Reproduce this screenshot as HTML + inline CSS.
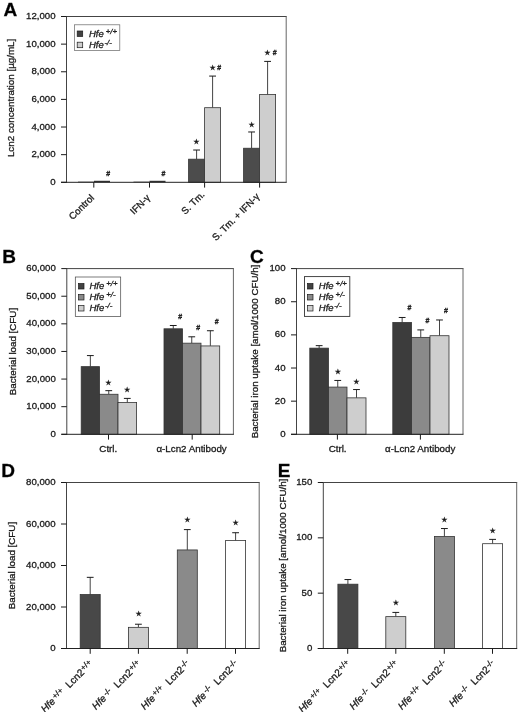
<!DOCTYPE html>
<html><head><meta charset="utf-8"><title>Figure</title>
<style>html,body{margin:0;padding:0;background:#fff}svg{display:block;will-change:transform;filter:grayscale(1)}text{stroke:#1a1a1a;stroke-width:.3px}</style></head>
<body>
<svg width="520" height="712" viewBox="0 0 520 712" font-family='"Liberation Sans", Arial, sans-serif'>
<rect width="520" height="712" fill="#fff"/>
<rect x="78.00" y="181.68" width="16.00" height="0.62" fill="#333" stroke="none" stroke-width="0"/>
<rect x="94.00" y="180.78" width="16.00" height="1.52" fill="#333" stroke="none" stroke-width="0"/>
<rect x="133.50" y="181.68" width="16.00" height="0.62" fill="#333" stroke="none" stroke-width="0"/>
<rect x="149.50" y="180.78" width="16.00" height="1.52" fill="#333" stroke="none" stroke-width="0"/>
<line x1="196.60" y1="159.18" x2="196.60" y2="150.02" stroke="#444" stroke-width="1"/>
<line x1="193.20" y1="150.02" x2="200.00" y2="150.02" stroke="#1a1a1a" stroke-width="1"/>
<rect x="188.60" y="159.18" width="16.00" height="23.12" fill="#4c4c4c" stroke="#333" stroke-width="0.8"/>
<line x1="212.60" y1="107.69" x2="212.60" y2="76.09" stroke="#444" stroke-width="1"/>
<line x1="209.20" y1="76.09" x2="216.00" y2="76.09" stroke="#1a1a1a" stroke-width="1"/>
<rect x="204.60" y="107.69" width="16.00" height="74.61" fill="#cecece" stroke="#333" stroke-width="0.8"/>
<line x1="251.60" y1="148.23" x2="251.60" y2="131.98" stroke="#444" stroke-width="1"/>
<line x1="248.20" y1="131.98" x2="255.00" y2="131.98" stroke="#1a1a1a" stroke-width="1"/>
<rect x="243.60" y="148.23" width="16.00" height="34.07" fill="#4c4c4c" stroke="#333" stroke-width="0.8"/>
<line x1="267.60" y1="94.56" x2="267.60" y2="61.40" stroke="#444" stroke-width="1"/>
<line x1="264.20" y1="61.40" x2="271.00" y2="61.40" stroke="#1a1a1a" stroke-width="1"/>
<rect x="259.60" y="94.56" width="16.00" height="87.74" fill="#cecece" stroke="#333" stroke-width="0.8"/>
<line x1="66.50" y1="16.50" x2="286.70" y2="16.50" stroke="#444" stroke-width="1"/>
<line x1="286.20" y1="16.50" x2="286.20" y2="182.30" stroke="#666" stroke-width="1"/>
<line x1="66.50" y1="16.00" x2="66.50" y2="182.80" stroke="#444" stroke-width="1"/>
<line x1="61.00" y1="182.30" x2="286.70" y2="182.30" stroke="#222" stroke-width="1"/>
<line x1="61.00" y1="182.30" x2="66.50" y2="182.30" stroke="#1a1a1a" stroke-width="1"/>
<text x="55.50" y="184.87" font-size="9.65" text-anchor="end" fill="#1a1a1a">0</text>
<line x1="61.00" y1="154.67" x2="66.50" y2="154.67" stroke="#1a1a1a" stroke-width="1"/>
<text x="55.50" y="157.24" font-size="9.65" text-anchor="end" fill="#1a1a1a">2,000</text>
<line x1="61.00" y1="127.03" x2="66.50" y2="127.03" stroke="#1a1a1a" stroke-width="1"/>
<text x="55.50" y="129.61" font-size="9.65" text-anchor="end" fill="#1a1a1a">4,000</text>
<line x1="61.00" y1="99.40" x2="66.50" y2="99.40" stroke="#1a1a1a" stroke-width="1"/>
<text x="55.50" y="101.97" font-size="9.65" text-anchor="end" fill="#1a1a1a">6,000</text>
<line x1="61.00" y1="71.77" x2="66.50" y2="71.77" stroke="#1a1a1a" stroke-width="1"/>
<text x="55.50" y="74.34" font-size="9.65" text-anchor="end" fill="#1a1a1a">8,000</text>
<line x1="61.00" y1="44.13" x2="66.50" y2="44.13" stroke="#1a1a1a" stroke-width="1"/>
<text x="55.50" y="46.71" font-size="9.65" text-anchor="end" fill="#1a1a1a">10,000</text>
<line x1="61.00" y1="16.50" x2="66.50" y2="16.50" stroke="#1a1a1a" stroke-width="1"/>
<text x="55.50" y="19.07" font-size="9.65" text-anchor="end" fill="#1a1a1a">12,000</text>
<line x1="93.80" y1="182.30" x2="93.80" y2="187.60" stroke="#1a1a1a" stroke-width="1"/>
<line x1="149.50" y1="182.30" x2="149.50" y2="187.60" stroke="#1a1a1a" stroke-width="1"/>
<line x1="204.60" y1="182.30" x2="204.60" y2="187.60" stroke="#1a1a1a" stroke-width="1"/>
<line x1="259.60" y1="182.30" x2="259.60" y2="187.60" stroke="#1a1a1a" stroke-width="1"/>
<text x="212.70" y="70.20" font-size="7" text-anchor="middle" fill="#1a1a1a" font-family="DejaVu Sans, sans-serif">★</text>
<text x="219.30" y="69.60" font-size="7" text-anchor="middle" font-weight="bold" fill="#1a1a1a">#</text>
<text x="267.50" y="55.40" font-size="7" text-anchor="middle" fill="#1a1a1a" font-family="DejaVu Sans, sans-serif">★</text>
<text x="274.60" y="55.10" font-size="7" text-anchor="middle" font-weight="bold" fill="#1a1a1a">#</text>
<text x="196.30" y="144.30" font-size="7" text-anchor="middle" fill="#1a1a1a" font-family="DejaVu Sans, sans-serif">★</text>
<text x="251.70" y="126.60" font-size="7" text-anchor="middle" fill="#1a1a1a" font-family="DejaVu Sans, sans-serif">★</text>
<text x="108.30" y="176.20" font-size="7" text-anchor="middle" font-weight="bold" fill="#1a1a1a">#</text>
<text x="163.40" y="176.20" font-size="7" text-anchor="middle" font-weight="bold" fill="#1a1a1a">#</text>
<line x1="90.35" y1="366.64" x2="90.35" y2="355.59" stroke="#444" stroke-width="1"/>
<line x1="86.95" y1="355.59" x2="93.75" y2="355.59" stroke="#1a1a1a" stroke-width="1"/>
<rect x="81.20" y="366.64" width="18.30" height="67.66" fill="#3c3c3c" stroke="#333" stroke-width="0.8"/>
<line x1="108.75" y1="394.26" x2="108.75" y2="390.67" stroke="#444" stroke-width="1"/>
<line x1="105.35" y1="390.67" x2="112.15" y2="390.67" stroke="#1a1a1a" stroke-width="1"/>
<rect x="99.50" y="394.26" width="18.50" height="40.04" fill="#8a8a8a" stroke="#333" stroke-width="0.8"/>
<line x1="127.30" y1="402.54" x2="127.30" y2="398.40" stroke="#444" stroke-width="1"/>
<line x1="123.90" y1="398.40" x2="130.70" y2="398.40" stroke="#1a1a1a" stroke-width="1"/>
<rect x="118.00" y="402.54" width="18.60" height="31.76" fill="#cecece" stroke="#333" stroke-width="0.8"/>
<line x1="173.25" y1="328.80" x2="173.25" y2="325.49" stroke="#444" stroke-width="1"/>
<line x1="169.85" y1="325.49" x2="176.65" y2="325.49" stroke="#1a1a1a" stroke-width="1"/>
<rect x="164.00" y="328.80" width="18.50" height="105.50" fill="#3c3c3c" stroke="#333" stroke-width="0.8"/>
<line x1="191.75" y1="343.17" x2="191.75" y2="336.81" stroke="#444" stroke-width="1"/>
<line x1="188.35" y1="336.81" x2="195.15" y2="336.81" stroke="#1a1a1a" stroke-width="1"/>
<rect x="182.50" y="343.17" width="18.50" height="91.13" fill="#8a8a8a" stroke="#333" stroke-width="0.8"/>
<line x1="210.35" y1="345.93" x2="210.35" y2="330.74" stroke="#444" stroke-width="1"/>
<line x1="206.95" y1="330.74" x2="213.75" y2="330.74" stroke="#1a1a1a" stroke-width="1"/>
<rect x="201.00" y="345.93" width="18.70" height="88.37" fill="#cecece" stroke="#333" stroke-width="0.8"/>
<line x1="66.80" y1="268.60" x2="233.90" y2="268.60" stroke="#444" stroke-width="1"/>
<line x1="233.40" y1="268.60" x2="233.40" y2="434.30" stroke="#666" stroke-width="1"/>
<line x1="66.80" y1="268.10" x2="66.80" y2="434.80" stroke="#444" stroke-width="1"/>
<line x1="61.30" y1="434.30" x2="233.90" y2="434.30" stroke="#222" stroke-width="1"/>
<line x1="61.30" y1="434.30" x2="66.80" y2="434.30" stroke="#1a1a1a" stroke-width="1"/>
<text x="55.80" y="436.87" font-size="9.65" text-anchor="end" fill="#1a1a1a">0</text>
<line x1="61.30" y1="406.68" x2="66.80" y2="406.68" stroke="#1a1a1a" stroke-width="1"/>
<text x="55.80" y="409.26" font-size="9.65" text-anchor="end" fill="#1a1a1a">10,000</text>
<line x1="61.30" y1="379.07" x2="66.80" y2="379.07" stroke="#1a1a1a" stroke-width="1"/>
<text x="55.80" y="381.64" font-size="9.65" text-anchor="end" fill="#1a1a1a">20,000</text>
<line x1="61.30" y1="351.45" x2="66.80" y2="351.45" stroke="#1a1a1a" stroke-width="1"/>
<text x="55.80" y="354.02" font-size="9.65" text-anchor="end" fill="#1a1a1a">30,000</text>
<line x1="61.30" y1="323.83" x2="66.80" y2="323.83" stroke="#1a1a1a" stroke-width="1"/>
<text x="55.80" y="326.41" font-size="9.65" text-anchor="end" fill="#1a1a1a">40,000</text>
<line x1="61.30" y1="296.22" x2="66.80" y2="296.22" stroke="#1a1a1a" stroke-width="1"/>
<text x="55.80" y="298.79" font-size="9.65" text-anchor="end" fill="#1a1a1a">50,000</text>
<line x1="61.30" y1="268.60" x2="66.80" y2="268.60" stroke="#1a1a1a" stroke-width="1"/>
<text x="55.80" y="271.17" font-size="9.65" text-anchor="end" fill="#1a1a1a">60,000</text>
<line x1="108.50" y1="434.30" x2="108.50" y2="439.60" stroke="#1a1a1a" stroke-width="1"/>
<line x1="192.20" y1="434.30" x2="192.20" y2="439.60" stroke="#1a1a1a" stroke-width="1"/>
<text x="108.40" y="384.90" font-size="7" text-anchor="middle" fill="#1a1a1a" font-family="DejaVu Sans, sans-serif">★</text>
<text x="127.10" y="391.80" font-size="7" text-anchor="middle" fill="#1a1a1a" font-family="DejaVu Sans, sans-serif">★</text>
<text x="180.10" y="318.80" font-size="7" text-anchor="middle" font-weight="bold" fill="#1a1a1a">#</text>
<text x="198.30" y="329.80" font-size="7" text-anchor="middle" font-weight="bold" fill="#1a1a1a">#</text>
<text x="216.70" y="324.10" font-size="7" text-anchor="middle" font-weight="bold" fill="#1a1a1a">#</text>
<line x1="319.15" y1="348.14" x2="319.15" y2="345.65" stroke="#444" stroke-width="1"/>
<line x1="315.75" y1="345.65" x2="322.55" y2="345.65" stroke="#1a1a1a" stroke-width="1"/>
<rect x="309.80" y="348.14" width="18.70" height="86.16" fill="#3c3c3c" stroke="#333" stroke-width="0.8"/>
<line x1="337.75" y1="387.08" x2="337.75" y2="380.45" stroke="#444" stroke-width="1"/>
<line x1="334.35" y1="380.45" x2="341.15" y2="380.45" stroke="#1a1a1a" stroke-width="1"/>
<rect x="328.50" y="387.08" width="18.50" height="47.22" fill="#8a8a8a" stroke="#333" stroke-width="0.8"/>
<line x1="356.50" y1="397.85" x2="356.50" y2="389.56" stroke="#444" stroke-width="1"/>
<line x1="353.10" y1="389.56" x2="359.90" y2="389.56" stroke="#1a1a1a" stroke-width="1"/>
<rect x="347.00" y="397.85" width="19.00" height="36.45" fill="#cecece" stroke="#333" stroke-width="0.8"/>
<line x1="402.15" y1="322.45" x2="402.15" y2="317.48" stroke="#444" stroke-width="1"/>
<line x1="398.75" y1="317.48" x2="405.55" y2="317.48" stroke="#1a1a1a" stroke-width="1"/>
<rect x="392.80" y="322.45" width="18.70" height="111.85" fill="#3c3c3c" stroke="#333" stroke-width="0.8"/>
<line x1="420.75" y1="337.37" x2="420.75" y2="329.91" stroke="#444" stroke-width="1"/>
<line x1="417.35" y1="329.91" x2="424.15" y2="329.91" stroke="#1a1a1a" stroke-width="1"/>
<rect x="411.50" y="337.37" width="18.50" height="96.93" fill="#8a8a8a" stroke="#333" stroke-width="0.8"/>
<line x1="439.50" y1="335.71" x2="439.50" y2="319.97" stroke="#444" stroke-width="1"/>
<line x1="436.10" y1="319.97" x2="442.90" y2="319.97" stroke="#1a1a1a" stroke-width="1"/>
<rect x="430.00" y="335.71" width="19.00" height="98.59" fill="#cecece" stroke="#333" stroke-width="0.8"/>
<line x1="296.50" y1="268.60" x2="463.50" y2="268.60" stroke="#444" stroke-width="1"/>
<line x1="463.00" y1="268.60" x2="463.00" y2="434.30" stroke="#666" stroke-width="1"/>
<line x1="296.50" y1="268.10" x2="296.50" y2="434.80" stroke="#444" stroke-width="1"/>
<line x1="291.00" y1="434.30" x2="463.50" y2="434.30" stroke="#222" stroke-width="1"/>
<line x1="291.00" y1="434.30" x2="296.50" y2="434.30" stroke="#1a1a1a" stroke-width="1"/>
<text x="285.50" y="436.87" font-size="9.65" text-anchor="end" fill="#1a1a1a">0</text>
<line x1="291.00" y1="401.16" x2="296.50" y2="401.16" stroke="#1a1a1a" stroke-width="1"/>
<text x="285.50" y="403.73" font-size="9.65" text-anchor="end" fill="#1a1a1a">20</text>
<line x1="291.00" y1="368.02" x2="296.50" y2="368.02" stroke="#1a1a1a" stroke-width="1"/>
<text x="285.50" y="370.59" font-size="9.65" text-anchor="end" fill="#1a1a1a">40</text>
<line x1="291.00" y1="334.88" x2="296.50" y2="334.88" stroke="#1a1a1a" stroke-width="1"/>
<text x="285.50" y="337.45" font-size="9.65" text-anchor="end" fill="#1a1a1a">60</text>
<line x1="291.00" y1="301.74" x2="296.50" y2="301.74" stroke="#1a1a1a" stroke-width="1"/>
<text x="285.50" y="304.31" font-size="9.65" text-anchor="end" fill="#1a1a1a">80</text>
<line x1="291.00" y1="268.60" x2="296.50" y2="268.60" stroke="#1a1a1a" stroke-width="1"/>
<text x="285.50" y="271.17" font-size="9.65" text-anchor="end" fill="#1a1a1a">100</text>
<line x1="337.40" y1="434.30" x2="337.40" y2="439.60" stroke="#1a1a1a" stroke-width="1"/>
<line x1="420.40" y1="434.30" x2="420.40" y2="439.60" stroke="#1a1a1a" stroke-width="1"/>
<text x="337.80" y="374.30" font-size="7" text-anchor="middle" fill="#1a1a1a" font-family="DejaVu Sans, sans-serif">★</text>
<text x="356.40" y="383.60" font-size="7" text-anchor="middle" fill="#1a1a1a" font-family="DejaVu Sans, sans-serif">★</text>
<text x="409.40" y="309.70" font-size="7" text-anchor="middle" font-weight="bold" fill="#1a1a1a">#</text>
<text x="427.40" y="322.80" font-size="7" text-anchor="middle" font-weight="bold" fill="#1a1a1a">#</text>
<text x="446.00" y="313.20" font-size="7" text-anchor="middle" font-weight="bold" fill="#1a1a1a">#</text>
<line x1="90.20" y1="594.55" x2="90.20" y2="577.33" stroke="#444" stroke-width="1"/>
<line x1="86.80" y1="577.33" x2="93.60" y2="577.33" stroke="#1a1a1a" stroke-width="1"/>
<rect x="80.20" y="594.55" width="20.00" height="53.95" fill="#484848" stroke="#333" stroke-width="0.8"/>
<line x1="138.40" y1="627.34" x2="138.40" y2="624.22" stroke="#444" stroke-width="1"/>
<line x1="135.00" y1="624.22" x2="141.80" y2="624.22" stroke="#1a1a1a" stroke-width="1"/>
<rect x="128.40" y="627.34" width="20.00" height="21.16" fill="#cecece" stroke="#333" stroke-width="0.8"/>
<line x1="187.30" y1="549.94" x2="187.30" y2="529.60" stroke="#444" stroke-width="1"/>
<line x1="183.90" y1="529.60" x2="190.70" y2="529.60" stroke="#1a1a1a" stroke-width="1"/>
<rect x="177.30" y="549.94" width="20.00" height="98.56" fill="#8a8a8a" stroke="#333" stroke-width="0.8"/>
<line x1="235.60" y1="540.60" x2="235.60" y2="532.72" stroke="#444" stroke-width="1"/>
<line x1="232.20" y1="532.72" x2="239.00" y2="532.72" stroke="#1a1a1a" stroke-width="1"/>
<rect x="225.60" y="540.60" width="20.00" height="107.90" fill="#ffffff" stroke="#333" stroke-width="0.8"/>
<line x1="66.50" y1="482.50" x2="259.70" y2="482.50" stroke="#444" stroke-width="1"/>
<line x1="259.20" y1="482.50" x2="259.20" y2="648.50" stroke="#666" stroke-width="1"/>
<line x1="66.50" y1="482.00" x2="66.50" y2="649.00" stroke="#444" stroke-width="1"/>
<line x1="61.00" y1="648.50" x2="259.70" y2="648.50" stroke="#222" stroke-width="1"/>
<line x1="61.00" y1="648.50" x2="66.50" y2="648.50" stroke="#1a1a1a" stroke-width="1"/>
<text x="55.50" y="651.07" font-size="9.65" text-anchor="end" fill="#1a1a1a">0</text>
<line x1="61.00" y1="607.00" x2="66.50" y2="607.00" stroke="#1a1a1a" stroke-width="1"/>
<text x="55.50" y="609.57" font-size="9.65" text-anchor="end" fill="#1a1a1a">20,000</text>
<line x1="61.00" y1="565.50" x2="66.50" y2="565.50" stroke="#1a1a1a" stroke-width="1"/>
<text x="55.50" y="568.07" font-size="9.65" text-anchor="end" fill="#1a1a1a">40,000</text>
<line x1="61.00" y1="524.00" x2="66.50" y2="524.00" stroke="#1a1a1a" stroke-width="1"/>
<text x="55.50" y="526.57" font-size="9.65" text-anchor="end" fill="#1a1a1a">60,000</text>
<line x1="61.00" y1="482.50" x2="66.50" y2="482.50" stroke="#1a1a1a" stroke-width="1"/>
<text x="55.50" y="485.07" font-size="9.65" text-anchor="end" fill="#1a1a1a">80,000</text>
<line x1="90.20" y1="648.50" x2="90.20" y2="653.80" stroke="#1a1a1a" stroke-width="1"/>
<line x1="138.40" y1="648.50" x2="138.40" y2="653.80" stroke="#1a1a1a" stroke-width="1"/>
<line x1="187.20" y1="648.50" x2="187.20" y2="653.80" stroke="#1a1a1a" stroke-width="1"/>
<line x1="235.50" y1="648.50" x2="235.50" y2="653.80" stroke="#1a1a1a" stroke-width="1"/>
<text x="138.60" y="616.40" font-size="7" text-anchor="middle" fill="#1a1a1a" font-family="DejaVu Sans, sans-serif">★</text>
<text x="187.30" y="522.30" font-size="7" text-anchor="middle" fill="#1a1a1a" font-family="DejaVu Sans, sans-serif">★</text>
<text x="235.60" y="525.20" font-size="7" text-anchor="middle" fill="#1a1a1a" font-family="DejaVu Sans, sans-serif">★</text>
<line x1="347.90" y1="584.20" x2="347.90" y2="579.55" stroke="#444" stroke-width="1"/>
<line x1="344.50" y1="579.55" x2="351.30" y2="579.55" stroke="#1a1a1a" stroke-width="1"/>
<rect x="337.90" y="584.20" width="20.00" height="64.30" fill="#484848" stroke="#333" stroke-width="0.8"/>
<line x1="395.80" y1="616.63" x2="395.80" y2="612.42" stroke="#444" stroke-width="1"/>
<line x1="392.40" y1="612.42" x2="399.20" y2="612.42" stroke="#1a1a1a" stroke-width="1"/>
<rect x="385.80" y="616.63" width="20.00" height="31.87" fill="#cecece" stroke="#333" stroke-width="0.8"/>
<line x1="444.40" y1="536.51" x2="444.40" y2="528.54" stroke="#444" stroke-width="1"/>
<line x1="441.00" y1="528.54" x2="447.80" y2="528.54" stroke="#1a1a1a" stroke-width="1"/>
<rect x="434.40" y="536.51" width="20.00" height="111.99" fill="#8a8a8a" stroke="#333" stroke-width="0.8"/>
<line x1="492.60" y1="543.70" x2="492.60" y2="539.38" stroke="#444" stroke-width="1"/>
<line x1="489.20" y1="539.38" x2="496.00" y2="539.38" stroke="#1a1a1a" stroke-width="1"/>
<rect x="482.60" y="543.70" width="20.00" height="104.80" fill="#ffffff" stroke="#333" stroke-width="0.8"/>
<line x1="323.30" y1="482.50" x2="517.20" y2="482.50" stroke="#444" stroke-width="1"/>
<line x1="516.70" y1="482.50" x2="516.70" y2="648.50" stroke="#666" stroke-width="1"/>
<line x1="323.30" y1="482.00" x2="323.30" y2="649.00" stroke="#444" stroke-width="1"/>
<line x1="317.80" y1="648.50" x2="517.20" y2="648.50" stroke="#222" stroke-width="1"/>
<line x1="317.80" y1="648.50" x2="323.30" y2="648.50" stroke="#1a1a1a" stroke-width="1"/>
<text x="312.30" y="651.07" font-size="9.65" text-anchor="end" fill="#1a1a1a">0</text>
<line x1="317.80" y1="593.17" x2="323.30" y2="593.17" stroke="#1a1a1a" stroke-width="1"/>
<text x="312.30" y="595.74" font-size="9.65" text-anchor="end" fill="#1a1a1a">50</text>
<line x1="317.80" y1="537.83" x2="323.30" y2="537.83" stroke="#1a1a1a" stroke-width="1"/>
<text x="312.30" y="540.41" font-size="9.65" text-anchor="end" fill="#1a1a1a">100</text>
<line x1="317.80" y1="482.50" x2="323.30" y2="482.50" stroke="#1a1a1a" stroke-width="1"/>
<text x="312.30" y="485.07" font-size="9.65" text-anchor="end" fill="#1a1a1a">150</text>
<line x1="347.70" y1="648.50" x2="347.70" y2="653.80" stroke="#1a1a1a" stroke-width="1"/>
<line x1="395.80" y1="648.50" x2="395.80" y2="653.80" stroke="#1a1a1a" stroke-width="1"/>
<line x1="444.30" y1="648.50" x2="444.30" y2="653.80" stroke="#1a1a1a" stroke-width="1"/>
<line x1="492.50" y1="648.50" x2="492.50" y2="653.80" stroke="#1a1a1a" stroke-width="1"/>
<text x="396.00" y="605.30" font-size="7" text-anchor="middle" fill="#1a1a1a" font-family="DejaVu Sans, sans-serif">★</text>
<text x="444.40" y="521.70" font-size="7" text-anchor="middle" fill="#1a1a1a" font-family="DejaVu Sans, sans-serif">★</text>
<text x="492.70" y="532.50" font-size="7" text-anchor="middle" fill="#1a1a1a" font-family="DejaVu Sans, sans-serif">★</text>
<text x="3.60" y="15.80" font-size="19" text-anchor="start" font-weight="bold" fill="#000" stroke="none">A</text>
<text x="2.20" y="263.00" font-size="19" text-anchor="start" font-weight="bold" fill="#000" stroke="none">B</text>
<text x="250.00" y="263.20" font-size="19" text-anchor="start" font-weight="bold" fill="#000" stroke="none">C</text>
<text x="1.30" y="477.20" font-size="19" text-anchor="start" font-weight="bold" fill="#000" stroke="none">D</text>
<text x="277.80" y="477.00" font-size="19" text-anchor="start" font-weight="bold" fill="#000" stroke="none">E</text>
<text x="14.30" y="97.90" font-size="9.8" text-anchor="middle" fill="#1a1a1a" transform="rotate(-90 14.30 97.90)">Lcn2 concentration [µg/mL]</text>
<text x="16.00" y="351.60" font-size="9.78" text-anchor="middle" fill="#1a1a1a" transform="rotate(-90 16.00 351.60)">Bacterial load [CFU]</text>
<text x="258.30" y="351.50" font-size="9.78" text-anchor="middle" fill="#1a1a1a" transform="rotate(-90 258.30 351.50)">Bacterial iron uptake [amol/1000 CFU/h]</text>
<text x="15.20" y="565.60" font-size="9.78" text-anchor="middle" fill="#1a1a1a" transform="rotate(-90 15.20 565.60)">Bacterial load [CFU]</text>
<text x="285.60" y="565.50" font-size="9.78" text-anchor="middle" fill="#1a1a1a" transform="rotate(-90 285.60 565.50)">Bacterial iron uptake [amol/1000 CFU/h]</text>
<text x="94.70" y="198.40" font-size="9.6" text-anchor="end" fill="#1a1a1a" transform="rotate(-45 94.70 198.40)">Control</text>
<text x="150.70" y="198.40" font-size="9.6" text-anchor="end" fill="#1a1a1a" transform="rotate(-45 150.70 198.40)">IFN-γ</text>
<text x="205.20" y="195.10" font-size="9.6" text-anchor="end" fill="#1a1a1a" transform="rotate(-45 205.20 195.10)">S. Tm.</text>
<text x="260.20" y="197.20" font-size="9.6" text-anchor="end" fill="#1a1a1a" transform="rotate(-45 260.20 197.20)">S. Tm. + IFN-γ</text>
<text x="108.30" y="452.20" font-size="9.78" text-anchor="middle" fill="#1a1a1a">Ctrl.</text>
<text x="191.60" y="452.20" font-size="9.78" text-anchor="middle" fill="#1a1a1a">α-Lcn2 Antibody</text>
<text x="337.60" y="452.20" font-size="9.78" text-anchor="middle" fill="#1a1a1a">Ctrl.</text>
<text x="420.20" y="452.20" font-size="9.78" text-anchor="middle" fill="#1a1a1a">α-Lcn2 Antibody</text>
<text x="93.50" y="664.50" font-size="10" text-anchor="end" fill="#1a1a1a" transform="rotate(-45 93.50 664.50)"><tspan font-style="italic">Hfe</tspan><tspan font-size="8" dy="-2.5" dx="1.5">+/+</tspan><tspan dy="2.5" dx="6.2">Lcn2</tspan><tspan font-size="8" dy="-2.5" dx="0.5">+/+</tspan></text>
<text x="351.00" y="664.50" font-size="10" text-anchor="end" fill="#1a1a1a" transform="rotate(-45 351.00 664.50)"><tspan font-style="italic">Hfe</tspan><tspan font-size="8" dy="-2.5" dx="1.5">+/+</tspan><tspan dy="2.5" dx="6.2">Lcn2</tspan><tspan font-size="8" dy="-2.5" dx="0.5">+/+</tspan></text>
<text x="141.70" y="664.50" font-size="10" text-anchor="end" fill="#1a1a1a" transform="rotate(-45 141.70 664.50)"><tspan font-style="italic">Hfe</tspan><tspan font-size="8" dy="-2.5" dx="1.5">-/-</tspan><tspan dy="2.5" dx="6.2">Lcn2</tspan><tspan font-size="8" dy="-2.5" dx="0.5">+/+</tspan></text>
<text x="399.10" y="664.50" font-size="10" text-anchor="end" fill="#1a1a1a" transform="rotate(-45 399.10 664.50)"><tspan font-style="italic">Hfe</tspan><tspan font-size="8" dy="-2.5" dx="1.5">-/-</tspan><tspan dy="2.5" dx="6.2">Lcn2</tspan><tspan font-size="8" dy="-2.5" dx="0.5">+/+</tspan></text>
<text x="190.50" y="664.50" font-size="10" text-anchor="end" fill="#1a1a1a" transform="rotate(-45 190.50 664.50)"><tspan font-style="italic">Hfe</tspan><tspan font-size="8" dy="-2.5" dx="1.5">+/+</tspan><tspan dy="2.5" dx="6.2">Lcn2</tspan><tspan font-size="8" dy="-2.5" dx="0.5">-/-</tspan></text>
<text x="447.60" y="664.50" font-size="10" text-anchor="end" fill="#1a1a1a" transform="rotate(-45 447.60 664.50)"><tspan font-style="italic">Hfe</tspan><tspan font-size="8" dy="-2.5" dx="1.5">+/+</tspan><tspan dy="2.5" dx="6.2">Lcn2</tspan><tspan font-size="8" dy="-2.5" dx="0.5">-/-</tspan></text>
<text x="238.80" y="664.50" font-size="10" text-anchor="end" fill="#1a1a1a" transform="rotate(-45 238.80 664.50)"><tspan font-style="italic">Hfe</tspan><tspan font-size="8" dy="-2.5" dx="1.5">-/-</tspan><tspan dy="2.5" dx="6.2">Lcn2</tspan><tspan font-size="8" dy="-2.5" dx="0.5">-/-</tspan></text>
<text x="495.80" y="664.50" font-size="10" text-anchor="end" fill="#1a1a1a" transform="rotate(-45 495.80 664.50)"><tspan font-style="italic">Hfe</tspan><tspan font-size="8" dy="-2.5" dx="1.5">-/-</tspan><tspan dy="2.5" dx="6.2">Lcn2</tspan><tspan font-size="8" dy="-2.5" dx="0.5">-/-</tspan></text>
<rect x="74.50" y="24.80" width="45.30" height="25.80" fill="#fff" stroke="#666" stroke-width="0.7"/>
<rect x="77.20" y="31.00" width="5.50" height="5.50" fill="#424242" stroke="#1a1a1a" stroke-width="0.7"/>
<text x="89.00" y="36.50" font-size="9.5" text-anchor="start" font-style="italic" fill="#1a1a1a">Hfe<tspan font-size="7.8" dy="-2.8" dx="2.0" font-style="italic">+/+</tspan></text>
<rect x="77.20" y="42.20" width="5.50" height="5.50" fill="#cecece" stroke="#1a1a1a" stroke-width="0.7"/>
<text x="89.00" y="47.70" font-size="9.5" text-anchor="start" font-style="italic" fill="#1a1a1a">Hfe<tspan font-size="7.8" dy="-2.8" dx="0.6" font-style="italic">-/-</tspan></text>
<rect x="75.30" y="277.00" width="45.40" height="39.40" fill="#fff" stroke="#444" stroke-width="0.7"/>
<rect x="78.50" y="283.50" width="5.50" height="5.50" fill="#424242" stroke="#1a1a1a" stroke-width="0.7"/>
<text x="89.50" y="289.00" font-size="9.5" text-anchor="start" font-style="italic" fill="#1a1a1a">Hfe<tspan font-size="7.8" dy="-3.3" dx="2.0" font-style="italic">+/+</tspan></text>
<rect x="78.50" y="294.50" width="5.50" height="5.50" fill="#8a8a8a" stroke="#1a1a1a" stroke-width="0.7"/>
<text x="89.50" y="300.00" font-size="9.5" text-anchor="start" font-style="italic" fill="#1a1a1a">Hfe<tspan font-size="7.8" dy="-3.3" dx="2.0" font-style="italic">+/-</tspan></text>
<rect x="78.50" y="305.50" width="5.50" height="5.50" fill="#cecece" stroke="#1a1a1a" stroke-width="0.7"/>
<text x="89.50" y="311.00" font-size="9.5" text-anchor="start" font-style="italic" fill="#1a1a1a">Hfe<tspan font-size="7.8" dy="-3.3" dx="0.6" font-style="italic">-/-</tspan></text>
<rect x="304.50" y="276.60" width="45.30" height="39.80" fill="#fff" stroke="#333" stroke-width="0.9"/>
<rect x="307.50" y="283.50" width="5.50" height="5.50" fill="#424242" stroke="#1a1a1a" stroke-width="0.7"/>
<text x="318.80" y="289.00" font-size="9.5" text-anchor="start" font-style="italic" fill="#1a1a1a">Hfe<tspan font-size="7.8" dy="-3.3" dx="2.0" font-style="italic">+/+</tspan></text>
<rect x="307.50" y="294.50" width="5.50" height="5.50" fill="#8a8a8a" stroke="#1a1a1a" stroke-width="0.7"/>
<text x="318.80" y="300.00" font-size="9.5" text-anchor="start" font-style="italic" fill="#1a1a1a">Hfe<tspan font-size="7.8" dy="-3.3" dx="2.0" font-style="italic">+/-</tspan></text>
<rect x="307.50" y="305.50" width="5.50" height="5.50" fill="#cecece" stroke="#1a1a1a" stroke-width="0.7"/>
<text x="318.80" y="311.00" font-size="9.5" text-anchor="start" font-style="italic" fill="#1a1a1a">Hfe<tspan font-size="7.8" dy="-3.3" dx="0.6" font-style="italic">-/-</tspan></text>
</svg>
</body></html>
